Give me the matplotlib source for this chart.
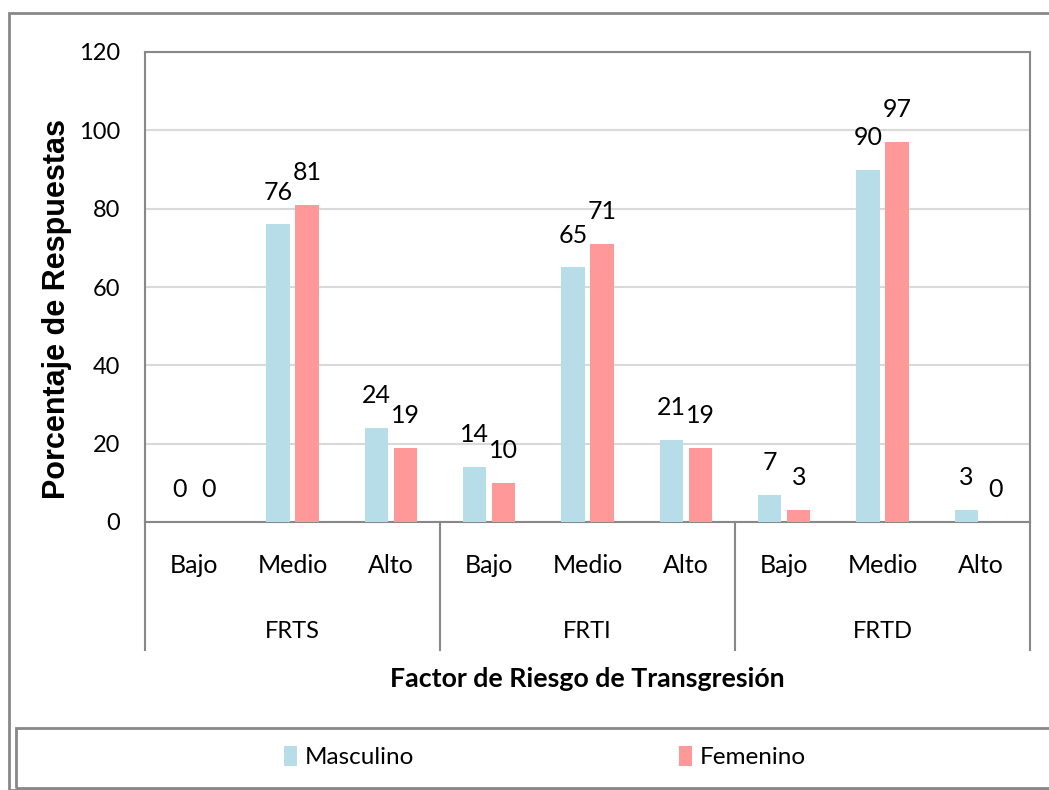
import matplotlib.pyplot as plt
import numpy as np
from matplotlib.patches import Rectangle
from matplotlib.transforms import blended_transform_factory

plt.rcParams['font.family'] = ['Lato', 'DejaVu Sans']

niveles = ['Bajo', 'Medio', 'Alto'] * 3
factores = ['FRTS', 'FRTI', 'FRTD']
masculino = [0, 76, 24, 14, 65, 21, 7, 90, 3]
femenino = [0, 81, 19, 10, 71, 19, 3, 97, 0]

c_masc = '#b7dde8'
c_fem = '#ff9999'
gris = '#888888'

fig = plt.figure(figsize=(10.49, 7.9), dpi=100)
ax = fig.add_axes([145 / 1049, 1 - 522 / 790, 885 / 1049, 470 / 790])

x = np.arange(len(niveles))
w = 0.235
off = 0.148
b1 = ax.bar(x - off, masculino, w, color=c_masc, label='Masculino', zorder=3)
b2 = ax.bar(x + off, femenino, w, color=c_fem, label='Femenino', zorder=3)

for bars, vals in ((b1, masculino), (b2, femenino)):
    for r, v in zip(bars, vals):
        ax.annotate(str(v), (r.get_x() + r.get_width() / 2, v),
                    xytext=(0, 15), textcoords='offset points',
                    ha='center', va='bottom', fontsize=18)

ax.set_xlim(-0.5, len(niveles) - 0.5)
ax.set_ylim(0, 120)
ax.set_yticks(range(0, 121, 20))
ax.tick_params(axis='y', length=0, labelsize=17, pad=18)
ax.set_xticks([])
ax.yaxis.grid(True, color='#d9d9d9', linewidth=1.5, zorder=0)
for s in ax.spines.values():
    s.set_color(gris)
    s.set_linewidth(1.5)

# category axis (two levels)
tr = blended_transform_factory(ax.transData, ax.transAxes)
for i, n in enumerate(niveles):
    ax.text(i, -0.092, n, transform=tr, ha='center', va='center', fontsize=18)
for g, f in enumerate(factores):
    ax.text(3 * g + 1, -0.232, f, transform=tr, ha='center', va='center', fontsize=17)
for xs in [-0.5, 2.5, 5.5, 8.5]:
    ax.plot([xs, xs], [0, -0.272], transform=tr, color=gris, lw=1.5, clip_on=False)

ax.text(0.5, -0.335, 'Factor de Riesgo de Transgresión', transform=ax.transAxes,
        ha='center', va='center', fontsize=19.3, fontweight='bold')
fig.text(57 / 1049, 1 - 309 / 790, 'Porcentaje de Respuestas', rotation=90,
         ha='center', va='center', fontsize=22, fontweight='bold',
         family='Liberation Sans')

# outer border and legend frame
fig.patches.append(Rectangle((9 / 1049, 0), 1.1, 1 - 13 / 790, transform=fig.transFigure,
                             fill=False, edgecolor=gris, lw=2, clip_on=False))
fig.patches.append(Rectangle((16 / 1049, 2 / 790), 1.1, 60 / 790, transform=fig.transFigure,
                             fill=False, edgecolor=gris, lw=2, clip_on=False))
fig.legend(handles=[b1, b2], loc='center left', bbox_to_anchor=(262 / 1049, 33 / 790),
           ncol=2, frameon=False, fontsize=17.5, handlelength=0.55, handleheight=0.9,
           handletextpad=0.3, columnspacing=10.9)

fig.savefig('out.png', dpi=100)
